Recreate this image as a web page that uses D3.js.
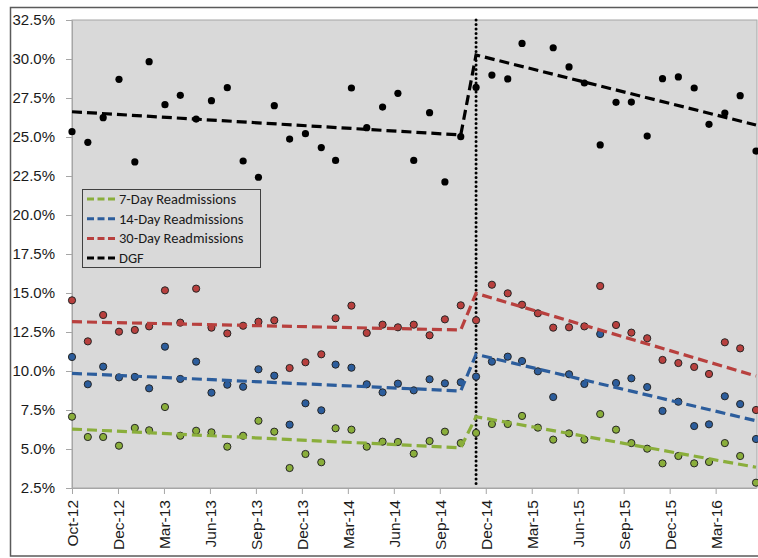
<!DOCTYPE html>
<html>
<head>
<meta charset="utf-8">
<script src="https://cdn.jsdelivr.net/npm/d3@7/dist/d3.min.js"></script>
<style>
  html, body { margin: 0; padding: 0; background: #ffffff; }
  svg { display: block; font-family: Carlito, Calibri, Lato, "DejaVu Sans", sans-serif; }
</style>
</head>
<body>
<svg id="chart" width="758" height="558"></svg>
<script>
// Monthly rates (%), Oct 2012 – Jun 2016
const dgf = [25.34, 24.66, 26.24, 28.70, 23.40, 29.83, 27.07, 27.67, 26.15, 27.33, 28.16, 23.46, 22.42,
  27.01, 24.87, 25.21, 24.32, 23.50, 28.14, 25.60, 26.92, 27.80, 23.50, 26.56, 22.12, 25.02,
  28.18, 28.97, 28.72, 31.00, null, 30.72, 29.49, 28.46, 24.49, 27.22, 27.24, 25.06, 28.74, 28.85,
  28.14, 25.81, 26.54, 27.65, 24.10];
const day30 = [14.53, 11.90, 13.59, 12.52, 12.63, 12.86, 15.17, 13.10, 15.28, 12.78, 12.41, 12.90, 13.16,
  13.25, 10.19, 10.56, 11.07, 13.38, 14.19, 12.44, 12.97, 12.80, 12.97, 12.29, 13.31, 14.21,
  13.25, 15.53, 14.98, 14.25, 13.70, 12.78, 12.80, 12.86, 15.45, 12.95, 12.46, 12.10, 10.71, 10.51,
  10.26, 9.81, 11.84, 11.45, 7.50];
const day14 = [10.90, 9.15, 10.28, 9.59, 9.62, 8.89, 11.56, 9.49, 10.60, 8.61, 9.12, 8.99, 10.11,
  9.70, 6.56, 7.93, 7.48, 10.41, 10.21, 9.15, 8.63, 9.19, 8.76, 9.47, 9.21, 9.28,
  9.64, 10.60, 10.92, 10.64, 9.98, 8.33, 9.79, 9.17, 12.37, 9.23, 9.53, 8.97, 7.44, 8.03,
  6.47, 6.58, 8.38, 7.88, 5.64];
const day7 = [7.07, 5.77, 5.77, 5.21, 6.35, 6.20, 7.69, 5.85, 6.17, 6.07, 5.15, 5.85, 6.81,
  6.11, 3.78, 4.68, 4.15, 6.33, 6.24, 5.15, 5.47, 5.45, 4.70, 5.51, 6.11, 5.38,
  6.03, 6.60, 6.60, 7.12, 6.37, 5.60, 6.00, 5.60, 7.24, 6.24, 5.38, 5.02, 4.08, 4.55,
  4.08, 4.17, 5.38, 4.55, 2.84];

// Segmented regression fits: before and after Dec 2014 (start / end of each segment)
const trendIndex = [0, 25, 26, 44];
const dgfTrend = [26.62, 25.13, 30.26, 25.77];
const day30Trend = [13.16, 12.63, 14.98, 9.68];
const day14Trend = [9.85, 8.72, 11.07, 6.81];
const day7Trend = [6.28, 5.08, 7.07, 3.83];

const interventionIndex = 26;

const seriesNames = ["7-Day Readmissions", "14-Day Readmissions", "30-Day Readmissions", "DGF"];
const seriesColors = ["#8aae3b", "#2c5d9c", "#b8403e", "#000000"];

const yTickValues = [2.5, 5, 7.5, 10, 12.5, 15, 17.5, 20, 22.5, 25, 27.5, 30, 32.5];
const xTickLabels = ["Oct-12", "Dec-12", "Mar-13", "Jun-13", "Sep-13", "Dec-13", "Mar-14", "Jun-14",
  "Sep-14", "Dec-14", "Mar-15", "Jun-15", "Sep-15", "Dec-15", "Mar-16"];

const svg = d3.select("#chart");
const plot = { left: 72, right: 757, top: 20, bottom: 488 };

const start = new Date(Date.UTC(2012, 9, 1));
const end = new Date(Date.UTC(2016, 5, 1));
const months = d3.utcMonth.range(start, d3.utcMonth.offset(end, 1));

const x = d3.scaleUtc().domain([start, end]).range([plot.left, plot.right - 1]);
const y = d3.scaleLinear().domain([2.5, 32.5]).range([plot.bottom, plot.top]);

// outer chart frame
svg.append("rect")
  .attr("x", 10.5).attr("y", 7.5).attr("width", 760).attr("height", 548.5)
  .attr("fill", "#ffffff").attr("stroke", "#5a5a5a").attr("stroke-width", 1.5);

// plot area
svg.append("rect")
  .attr("x", plot.left).attr("y", plot.top)
  .attr("width", plot.right - plot.left).attr("height", plot.bottom - plot.top)
  .attr("fill", "#d9d9d9").attr("stroke", "#a6a6a6").attr("stroke-width", 1);

// y axis
const yAxis = d3.axisLeft(y).tickValues(yTickValues)
  .tickFormat(d => d3.format(".1f")(d) + "%")
  .tickSizeInner(6).tickSizeOuter(0).tickPadding(11);
const gy = svg.append("g").attr("transform", `translate(${plot.left},0)`).call(yAxis);
gy.select(".domain").attr("stroke", "#a6a6a6");
gy.selectAll(".tick line").attr("stroke", "#a6a6a6");
gy.selectAll("text").attr("fill", "#1a1a1a").style("font-size", "15px");

// x axis: ticks every 90 days from the first month
const xTickDates = xTickLabels.map((_, i) => d3.utcDay.offset(start, 90 * i));
const xAxis = d3.axisBottom(x).tickValues(xTickDates)
  .tickFormat((d, i) => xTickLabels[i])
  .tickSizeInner(6).tickSizeOuter(0).tickPadding(6);
const gx = svg.append("g").attr("transform", `translate(0,${plot.bottom})`).call(xAxis);
gx.select(".domain").attr("stroke", "#a6a6a6");
gx.selectAll(".tick line").attr("stroke", "#a6a6a6");
gx.selectAll("text")
  .attr("fill", "#1a1a1a").style("font-size", "15.5px")
  .attr("text-anchor", "end")
  .attr("transform", "rotate(-90)")
  .attr("x", -12).attr("y", 0).attr("dy", "0.35em");

const layer = svg.append("g");

// intervention marker
layer.append("line")
  .attr("x1", x(months[interventionIndex])).attr("x2", x(months[interventionIndex]))
  .attr("y1", plot.top).attr("y2", plot.bottom)
  .attr("stroke", "#000").attr("stroke-width", 3)
  .attr("stroke-dasharray", "0,4.5").attr("stroke-linecap", "round");

const trendLine = d3.line()
  .x(d => x(months[d.i]))
  .y(d => y(d.v));

const groups = [
  { values: day7, trend: day7Trend, color: seriesColors[0], outline: true },
  { values: day14, trend: day14Trend, color: seriesColors[1], outline: true },
  { values: day30, trend: day30Trend, color: seriesColors[2], outline: true },
  { values: dgf, trend: dgfTrend, color: seriesColors[3], outline: false }
];

groups.forEach(g => {
  const pts = g.values.map((v, i) => ({ i, v })).filter(d => d.v !== null);
  layer.append("g").selectAll("circle").data(pts).join("circle")
    .attr("cx", d => x(months[d.i]))
    .attr("cy", d => y(d.v))
    .attr("r", 3.6)
    .attr("fill", g.color)
    .attr("stroke", g.outline ? "#262626" : "none")
    .attr("stroke-width", 1);
});

groups.forEach(g => {
  const seg = g.trend.map((v, k) => ({ i: trendIndex[k], v }));
  layer.append("path")
    .attr("d", trendLine(seg))
    .attr("fill", "none")
    .attr("stroke", g.color)
    .attr("stroke-width", 3.2)
    .attr("stroke-dasharray", "10,5");
});

// legend
const legend = svg.append("g").attr("transform", "translate(82,189)");
legend.append("rect")
  .attr("x", 0.5).attr("y", 0.5).attr("width", 178).attr("height", 78)
  .attr("fill", "#d9d9d9").attr("stroke", "#404040").attr("stroke-width", 1);
seriesNames.forEach((name, k) => {
  const ly = 10 + k * 19.7;
  legend.append("line")
    .attr("x1", 5).attr("x2", 36).attr("y1", ly).attr("y2", ly)
    .attr("stroke", seriesColors[k]).attr("stroke-width", 3)
    .attr("stroke-dasharray", "7,3.5");
  legend.append("text")
    .attr("x", 37).attr("y", ly).attr("dy", "0.35em")
    .attr("fill", "#1a1a1a").style("font-size", "14.5px")
    .text(name);
});
</script>
</body>
</html>
